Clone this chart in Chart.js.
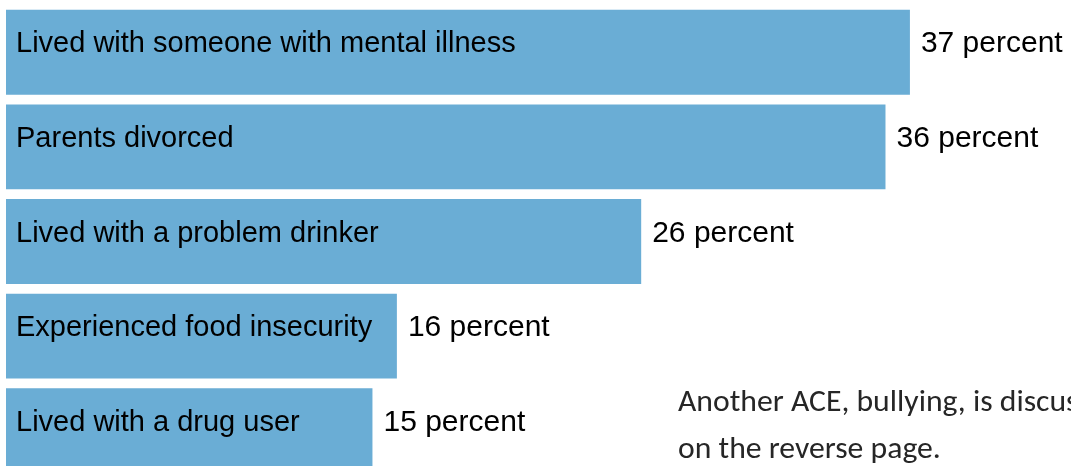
<!DOCTYPE html>
<html><head><meta charset="utf-8">
<script src="https://cdn.jsdelivr.net/npm/chart.js@4/dist/chart.umd.min.js"></script>
<style>
html,body{margin:0;padding:0;background:#fff;overflow:hidden;width:1071px;height:466px}
#wrap{position:absolute;left:0;top:0;width:1071px;height:484px}
#note{position:absolute;left:678px;top:377px;font-family:Carlito,"Open Sans",sans-serif;font-size:31.7px;line-height:47px;color:#262626;white-space:nowrap}
</style></head><body>
<div id="wrap"><canvas id="c"></canvas></div>
<div id="note">Another ACE, bullying, is discussed<br>on the reverse page.</div>
<script>
const categories = ["Lived with someone with mental illness","Parents divorced","Lived with a problem drinker","Experienced food insecurity","Lived with a drug user"];
const values = [37,36,26,16,15];
const valueLabels = ["37 percent","36 percent","26 percent","16 percent","15 percent"];

const labelPlugin = {
  id:'labels',
  afterDatasetsDraw(chart){
    const ctx = chart.ctx;
    const meta = chart.getDatasetMeta(0);
    const xs = chart.scales.x;
    ctx.save();
    ctx.fillStyle = '#000';
    ctx.textBaseline = 'alphabetic';
    ctx.textAlign = 'left';
    meta.data.forEach((bar,i)=>{
      const base = xs.getPixelForValue(0);
      ctx.font = '29px "Liberation Sans", Arial, sans-serif';
      ctx.fillText(categories[i], base + 10, bar.y);
      ctx.font = '30px "Liberation Sans", Arial, sans-serif';
      ctx.fillText(valueLabels[i], bar.x + 11, bar.y);
    });
    ctx.restore();
  }
};

new Chart(document.getElementById('c'),{
  type:'bar',
  data:{labels:categories,datasets:[{data:values,backgroundColor:'#6aadd5',borderWidth:0,barPercentage:0.897,categoryPercentage:1}]},
  options:{
    indexAxis:'y',responsive:true,maintainAspectRatio:false,animation:false,
    layout:{padding:{left:6,right:14.5,top:5,bottom:6}},
    plugins:{legend:{display:false},tooltip:{enabled:false}},
    scales:{
      x:{min:0,max:43,display:false},
      y:{display:false}
    }
  },
  plugins:[labelPlugin]
});
</script>
</body></html>
